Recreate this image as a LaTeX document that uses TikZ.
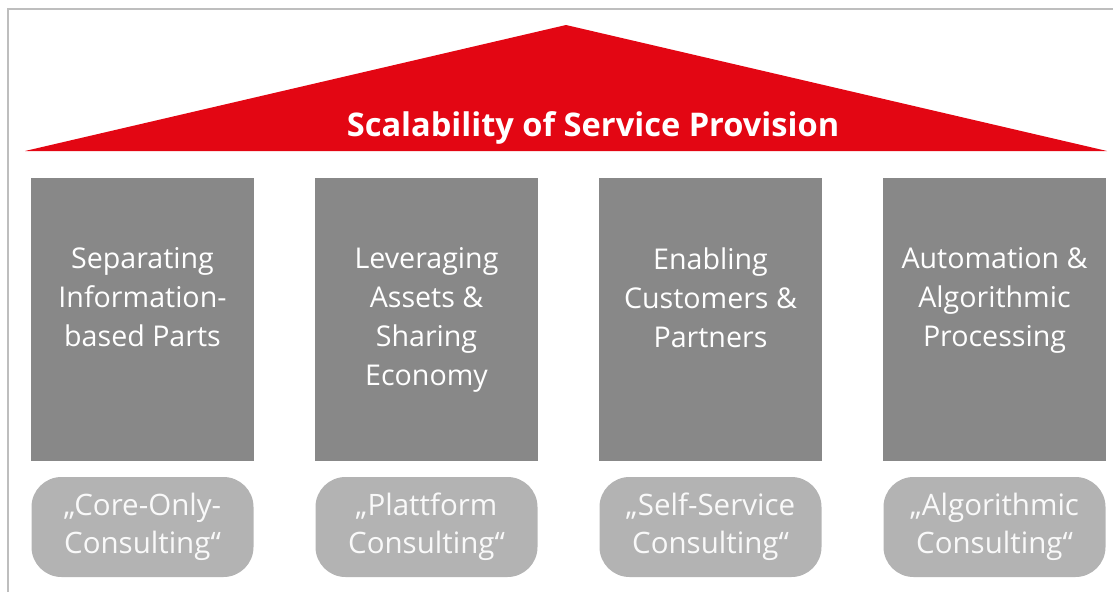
\documentclass[tikz,border=0pt]{standalone}
\usepackage{fontspec}
\setmainfont{Open Sans}
\usetikzlibrary{positioning}

\definecolor{roofred}{RGB}{227,6,19}
\definecolor{pillargray}{RGB}{136,136,136}
\definecolor{basegray}{RGB}{179,179,179}
\definecolor{framegray}{RGB}{190,190,190}

\begin{document}
\begin{tikzpicture}[
    x=1pt, y=-1pt,
    pillar/.style={fill=pillargray, minimum width=223pt, minimum height=283pt, inner sep=0pt},
    pillartext/.style={text=white, align=center, inner sep=0pt, font=\fontsize{28.6}{39}\selectfont},
    base/.style={fill=basegray, rounded corners=30pt, minimum width=222pt, minimum height=100pt,
        inner sep=0pt, align=center, text=white!92!basegray, font=\fontsize{29.5}{38}\selectfont}
]
\useasboundingbox (0,0) rectangle (1113,592);

% ========== frame ==========
\draw[framegray, line width=1.5pt] (8,592) -- (8,9) -- (1113,9);

% ========== roof ==========
\coordinate (roofleft) at (25,151);
\coordinate (rooftop) at (566,25);
\coordinate (roofright) at (1107,151);
\fill[roofred] (roofleft) -- (rooftop) -- (roofright) -- cycle;
\node[text=white, font=\bfseries\fontsize{32.6}{32.6}\selectfont] (title) at (593,128) {Scalability of Service Provision};

% ========== pillars and bases ==========
\foreach \i/\x/\txt/\sub in {
    1/142.5/{Separating\\Information-\\based Parts}/{„Core-Only-\\Consulting“},
    2/426.5/{Leveraging\\Assets \&\\Sharing\\Economy}/{„Plattform\\Consulting“},
    3/710.5/{Enabling\\Customers \&\\Partners}/{„Self-Service\\Consulting“},
    4/994.5/{Automation \&\\Algorithmic\\Processing}/{„Algorithmic\\Consulting“}} {
    \node[pillar] (pillar\i) at (\x,319.5) {};
    \node[pillartext, below=70pt of pillar\i.north] (pillartext\i) {\txt};
    \node[base] (base\i) at (\x,527) {\sub};
}

\end{tikzpicture}
\end{document}
